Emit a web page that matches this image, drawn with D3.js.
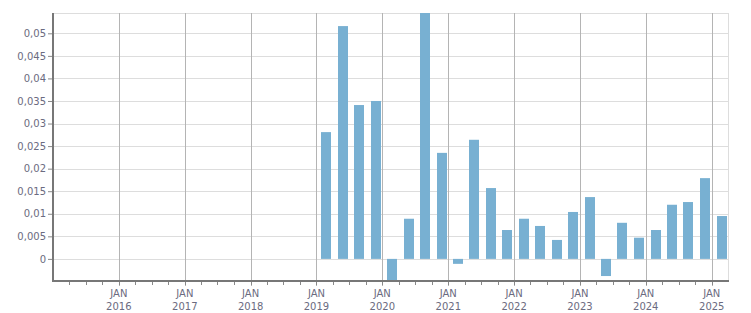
<!DOCTYPE html>
<html>
<head>
<meta charset="utf-8">
<script src="https://cdn.jsdelivr.net/npm/d3@7"></script>
<style>
  body { margin: 0; background: #fff; }
  svg text { font-family: Tahoma, "DejaVu Sans", Verdana, sans-serif; font-size: 10px; fill: #6b6b80; }
</style>
</head>
<body>
<div id="chart"></div>
<script>
// quarterly values (first quarter shown = 2019 Q1)
var quarters = ["2019-01", "2019-04", "2019-07", "2019-10",
                "2020-01", "2020-04", "2020-07", "2020-10",
                "2021-01", "2021-04", "2021-07", "2021-10",
                "2022-01", "2022-04", "2022-07", "2022-10",
                "2023-01", "2023-04", "2023-07", "2023-10",
                "2024-01", "2024-04", "2024-07", "2024-10",
                "2025-01"];
var values = [0.0281, 0.0516, 0.0341, 0.0350,
              -0.0049, 0.0089, 0.0545, 0.0235,
              -0.0011, 0.0264, 0.0157, 0.0064,
              0.0089, 0.0073, 0.0042, 0.0104,
              0.0137, -0.0038, 0.0080, 0.0047,
              0.0064, 0.0120, 0.0126, 0.0179,
              0.0095];
var yTicks = [0, 0.005, 0.01, 0.015, 0.02, 0.025, 0.03, 0.035, 0.04, 0.045, 0.05];
var xStart = "2015-01", xEnd = "2025-04";

var width = 751, height = 313;
var margin = {top: 13, right: 23, bottom: 32, left: 53};

var parse = d3.timeParse("%Y-%m");
var data = quarters.map(function(q, i) { return {date: parse(q), value: values[i]}; });

var x = d3.scaleTime()
    .domain([parse(xStart), parse(xEnd)])
    .range([margin.left, width - margin.right]);
var y = d3.scaleLinear()
    .domain(d3.extent(values))
    .range([height - margin.bottom, margin.top]);

var fmt = function(d) { return String(d).replace(".", ","); };

var svg = d3.select("#chart").append("svg")
    .attr("width", width)
    .attr("height", height);

// horizontal grid
svg.append("g").selectAll("line")
    .data(yTicks.concat([y.domain()[1]]))
    .enter().append("line")
    .attr("x1", margin.left).attr("x2", width - margin.right)
    .attr("y1", function(d) { return Math.round(y(d)) + 0.5; })
    .attr("y2", function(d) { return Math.round(y(d)) + 0.5; })
    .attr("stroke", "#dddddd");

// right border
svg.append("line")
    .attr("x1", width - margin.right + 0.5).attr("x2", width - margin.right + 0.5)
    .attr("y1", margin.top).attr("y2", height - margin.bottom)
    .attr("stroke", "#dddddd");

// vertical grid at each january
var years = x.ticks(d3.timeYear.every(1)).filter(function(d) { return d > x.domain()[0]; });
svg.append("g").selectAll("line")
    .data(years)
    .enter().append("line")
    .attr("x1", function(d) { return Math.round(x(d)) + 0.5; })
    .attr("x2", function(d) { return Math.round(x(d)) + 0.5; })
    .attr("y1", margin.top).attr("y2", height - margin.bottom + 5)
    .attr("stroke", "#b4b4b4");

// bars
var qw = x(parse("2019-04")) - x(parse("2019-01"));
svg.append("g").selectAll("rect")
    .data(data)
    .enter().append("rect")
    .attr("x", function(d) { return Math.round(x(d.date) + qw * 0.3); })
    .attr("width", Math.round(qw * 0.6))
    .attr("y", function(d) { return y(Math.max(0, d.value)); })
    .attr("height", function(d) { return Math.abs(y(d.value) - y(0)); })
    .attr("fill", "#78b0d2");

// y axis
var yAxis = svg.append("g")
    .attr("transform", "translate(" + margin.left + ",0)")
    .call(d3.axisLeft(y).tickValues(yTicks).tickSize(5).tickPadding(2).tickFormat(fmt));
yAxis.select(".domain").remove();
yAxis.selectAll(".tick line").attr("stroke", "#888");
svg.append("line")
    .attr("x1", margin.left).attr("x2", margin.left)
    .attr("y1", margin.top).attr("y2", height - margin.bottom)
    .attr("stroke", "#777").attr("stroke-width", 2);

// x axis: quarter minor ticks and year labels
var qTicks = d3.timeMonth.every(3).range(x.domain()[0], x.domain()[1]).filter(function(d) { return d > x.domain()[0]; });
svg.append("g").selectAll("line")
    .data(qTicks)
    .enter().append("line")
    .attr("x1", function(d) { return Math.round(x(d)) + 0.5; })
    .attr("x2", function(d) { return Math.round(x(d)) + 0.5; })
    .attr("y1", height - margin.bottom).attr("y2", height - margin.bottom + 4)
    .attr("stroke", "#888");
svg.append("line")
    .attr("x1", margin.left - 1).attr("x2", width - margin.right + 1)
    .attr("y1", height - margin.bottom).attr("y2", height - margin.bottom)
    .attr("stroke", "#777").attr("stroke-width", 2);

var labels = svg.append("g").selectAll("text")
    .data(years)
    .enter().append("text")
    .attr("text-anchor", "middle")
    .attr("x", function(d) { return x(d); });
labels.append("tspan").attr("x", function(d) { return x(d); }).attr("y", 297).text("JAN");
labels.append("tspan").attr("x", function(d) { return x(d); }).attr("y", 310).text(d3.timeFormat("%Y"));
</script>
</body>
</html>
